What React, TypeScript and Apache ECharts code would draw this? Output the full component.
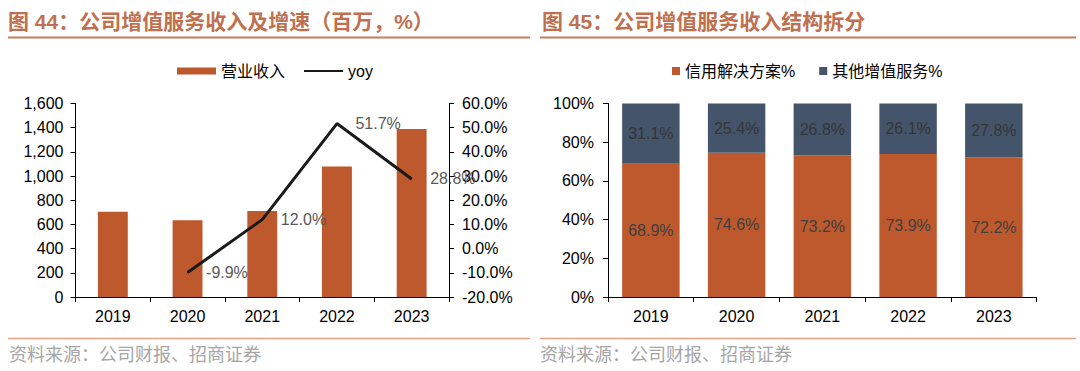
import React, { useEffect, useRef } from "react";
import * as echarts from "echarts";

const years = ["2019", "2020", "2021", "2022", "2023"];
const revenue = [705, 635, 711, 1079, 1390];
const yoy: (number | null)[] = [null, -9.9, 12.0, 51.7, 28.8];
const creditShare = [68.9, 74.6, 73.2, 73.9, 72.2];
const otherShare = [31.1, 25.4, 26.8, 26.1, 27.8];

const leftTitle = "图 44：公司增值服务收入及增速（百万，%）";
const rightTitle = "图 45：公司增值服务收入结构拆分";
const sourceText = "资料来源：公司财报、招商证券";

const ORANGE = "#BE582D";
const NAVY = "#44546A";
const TITLE = "#C0704F";
const FONT = '"Liberation Sans", Arial, "Noto Sans CJK SC", sans-serif';

export default function App() {
  const ref = useRef<HTMLDivElement>(null);
  useEffect(() => {
    document.body.style.margin = "0";
    const chart = echarts.init(ref.current!, null, { renderer: "svg" });
    const axisLabel = { fontSize: 16, color: "#000", fontFamily: FONT };
    const axisLine = { show: true, lineStyle: { color: "#000", width: 1 } };
    const axisTick = { show: true, length: 5, lineStyle: { color: "#000" } };
    const pct = (p: any) => Number(p.value).toFixed(1) + "%";
    chart.setOption({
      animation: false,
      backgroundColor: "#fff",
      textStyle: { fontFamily: FONT },
      grid: [
        { left: 75.5, top: 103.5, width: 373.5, height: 193.5 },
        { left: 608, top: 103.5, width: 428.7, height: 193.5 },
      ],
      legend: [
        {
          left: 172,
          top: 58,
          itemWidth: 39,
          itemHeight: 7,
          itemGap: 18,
          textStyle: { fontSize: 16, color: "#000", fontFamily: FONT },
          data: [
            { name: "营业收入", icon: "rect" },
            { name: "yoy", itemStyle: { opacity: 0 } },
          ],
        },
        {
          left: 667,
          top: 58,
          itemWidth: 8,
          itemHeight: 8,
          itemGap: 24,
          icon: "rect",
          textStyle: { fontSize: 16, color: "#000", fontFamily: FONT },
          data: ["信用解决方案%", "其他增值服务%"],
        },
      ],
      xAxis: [
        {
          type: "category",
          gridIndex: 0,
          data: years,
          axisLine,
          axisTick,
          axisLabel: { ...axisLabel, margin: 11 },
        },
        {
          type: "category",
          gridIndex: 1,
          data: years,
          axisLine,
          axisTick,
          axisLabel: { ...axisLabel, margin: 11 },
        },
      ],
      yAxis: [
        {
          type: "value",
          gridIndex: 0,
          min: 0,
          max: 1600,
          interval: 200,
          axisLine,
          axisTick,
          splitLine: { show: false },
          axisLabel: {
            ...axisLabel,
            margin: 12,
            formatter: (v: number) => v.toLocaleString("en-US"),
          },
        },
        {
          type: "value",
          gridIndex: 0,
          position: "right",
          min: -20,
          max: 60,
          interval: 10,
          axisLine,
          axisTick,
          splitLine: { show: false },
          axisLabel: {
            ...axisLabel,
            margin: 13,
            formatter: (v: number) => v.toFixed(1) + "%",
          },
        },
        {
          type: "value",
          gridIndex: 1,
          min: 0,
          max: 100,
          interval: 20,
          axisLine,
          axisTick,
          splitLine: { show: false },
          axisLabel: {
            ...axisLabel,
            margin: 14,
            formatter: (v: number) => v + "%",
          },
        },
      ],
      series: [
        {
          name: "营业收入",
          type: "bar",
          xAxisIndex: 0,
          yAxisIndex: 0,
          data: revenue,
          barWidth: "40%",
          itemStyle: { color: ORANGE },
        },
        {
          name: "yoy",
          type: "line",
          xAxisIndex: 0,
          yAxisIndex: 1,
          data: yoy,
          symbol: "circle",
          symbolSize: 1,
          showSymbol: true,
          lineStyle: { color: "#1a1a1a", width: 3 },
          itemStyle: { color: "#1a1a1a" },
          label: {
            show: true,
            position: "right",
            distance: 18,
            fontSize: 16,
            color: "#595959",
            fontFamily: FONT,
            formatter: pct,
          },
        },
        {
          name: "信用解决方案%",
          type: "bar",
          stack: "share",
          xAxisIndex: 1,
          yAxisIndex: 2,
          data: creditShare,
          barWidth: "67%",
          itemStyle: { color: ORANGE },
          label: {
            show: true,
            position: "inside",
            fontSize: 16,
            color: "#404040",
            fontFamily: FONT,
            formatter: pct,
          },
        },
        {
          name: "其他增值服务%",
          type: "bar",
          stack: "share",
          xAxisIndex: 1,
          yAxisIndex: 2,
          data: otherShare,
          barWidth: "67%",
          itemStyle: { color: NAVY },
          label: {
            show: true,
            position: "inside",
            fontSize: 16,
            color: "#353535",
            fontFamily: FONT,
            formatter: pct,
          },
        },
      ],
      graphic: [
        {
          type: "text",
          left: 8,
          top: 11,
          style: {
            text: leftTitle,
            font: 'bold 21px "Liberation Sans", "Noto Sans CJK SC", sans-serif',
            fill: TITLE,
          },
        },
        {
          type: "text",
          left: 542,
          top: 11,
          style: {
            text: rightTitle,
            font: 'bold 21px "Liberation Sans", "Noto Sans CJK SC", sans-serif',
            fill: TITLE,
          },
        },
        {
          type: "line",
          shape: { x1: 8, y1: 37.5, x2: 530, y2: 37.5 },
          style: { stroke: "#C97B5A", lineWidth: 2 },
        },
        {
          type: "line",
          shape: { x1: 540, y1: 37.5, x2: 1076, y2: 37.5 },
          style: { stroke: "#C97B5A", lineWidth: 2 },
        },
        {
          type: "line",
          shape: { x1: 8, y1: 338.5, x2: 530, y2: 338.5 },
          style: { stroke: "#E2A084", lineWidth: 1.5 },
        },
        {
          type: "line",
          shape: { x1: 540, y1: 338.5, x2: 1076, y2: 338.5 },
          style: { stroke: "#E2A084", lineWidth: 1.5 },
        },
        {
          type: "text",
          left: 9,
          top: 344,
          style: {
            text: sourceText,
            font: '18px "Noto Sans CJK SC", sans-serif',
            fill: "#A6A6A6",
          },
        },
        {
          type: "text",
          left: 540,
          top: 344,
          style: {
            text: sourceText,
            font: '18px "Noto Sans CJK SC", sans-serif',
            fill: "#A6A6A6",
          },
        },
      ],
    });
    return () => chart.dispose();
  }, []);
  return (
    <div
      ref={ref}
      style={{ position: "fixed", left: 0, top: 0, width: 1080, height: 371 }}
    />
  );
}
